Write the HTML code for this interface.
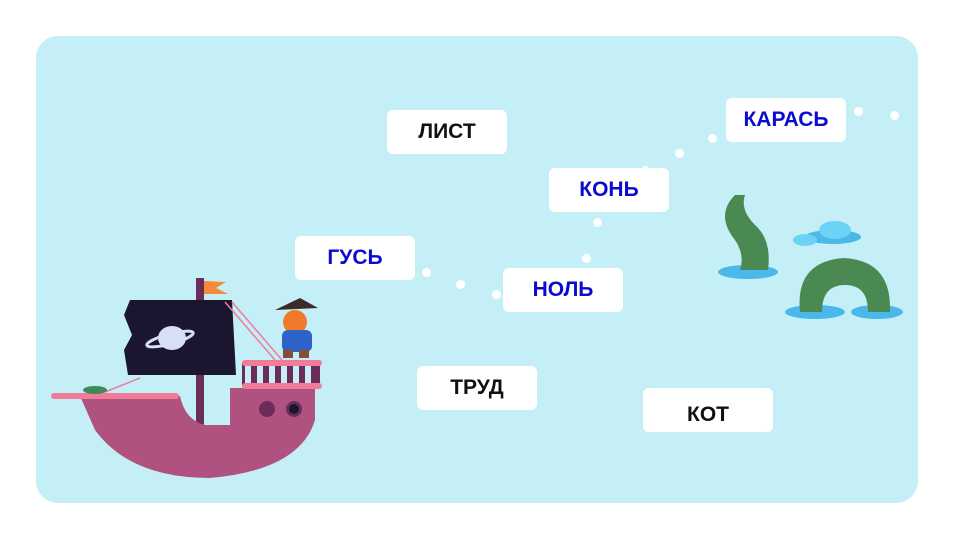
<!DOCTYPE html>
<html><head><meta charset="utf-8"><style>
body{margin:0;width:960px;height:540px;background:#fff;position:relative;overflow:hidden;font-family:"Liberation Sans",sans-serif}
.panel{position:absolute;left:36px;top:36px;width:882px;height:467px;background:#c5eff6;border-radius:22px}
.b{position:absolute;width:120px;height:44px;background:#fff;border-radius:6px;font-weight:bold;font-size:21px;display:flex;align-items:center;justify-content:center}
.bl{color:#0a0ad0}.k{color:#111}
.d{position:absolute;width:9px;height:9px;border-radius:50%;background:#fff}
svg{position:absolute;left:0;top:0}
</style></head><body>
<div class="panel"></div>
<svg width="960" height="540">
<!-- ship -->
<g>
<rect x="196" y="278" width="8" height="150" fill="#6b2c57"/>
<polygon points="204,281 226,282 216,288 228,294 204,294" fill="#f58a3a"/>
<path d="M130,300 L232,300 L236,375 L128,375 L124,350 L132,335 L124,315Z" fill="#1b1530"/>
<ellipse cx="172" cy="338" rx="14" ry="12" fill="#d8def8"/>
<ellipse cx="170" cy="339" rx="24" ry="5" fill="none" stroke="#d8def8" stroke-width="3" transform="rotate(-15 170 339)"/>
<line x1="225" y1="302" x2="275" y2="360" stroke="#f07c9a" stroke-width="1.5"/>
<line x1="232" y1="302" x2="282" y2="360" stroke="#f07c9a" stroke-width="1.5"/>
<line x1="105" y1="392" x2="140" y2="378" stroke="#f07c9a" stroke-width="1.5"/>
<path d="M80,396 L180,396 Q185,420 205,425 L230,425 L230,388 L315,388 L315,420 Q300,470 210,478 Q130,478 95,430 Z" fill="#b0527f"/>
<rect x="242" y="362" width="78" height="24" fill="#6b2c57"/>
<rect x="245" y="366" width="6" height="18" fill="#c5eff6"/><rect x="257" y="366" width="6" height="18" fill="#c5eff6"/><rect x="269" y="366" width="6" height="18" fill="#c5eff6"/><rect x="281" y="366" width="6" height="18" fill="#c5eff6"/><rect x="293" y="366" width="6" height="18" fill="#c5eff6"/><rect x="305" y="366" width="6" height="18" fill="#c5eff6"/>
<rect x="242" y="360" width="80" height="6" rx="3" fill="#f07c9a"/>
<rect x="242" y="383" width="80" height="6" rx="3" fill="#f07c9a"/>
<rect x="51" y="393" width="128" height="6" rx="3" fill="#f07c9a"/>
<ellipse cx="95" cy="390" rx="12" ry="4" fill="#3f8a5a"/>
<circle cx="267" cy="409" r="8" fill="#6b2c57"/><circle cx="294" cy="409" r="8" fill="#6b2c57"/><circle cx="294" cy="409" r="5" fill="#1b1530"/>
<path d="M275,310 L300,298 L318,308 Z" fill="#3a2a2a"/>
<circle cx="295" cy="322" r="12" fill="#f07a2a"/>
<rect x="282" y="330" width="30" height="22" rx="6" fill="#2d63c8"/>
<rect x="283" y="350" width="10" height="8" fill="#8a4a3a"/><rect x="299" y="350" width="10" height="8" fill="#8a4a3a"/>
</g>
<!-- serpent -->
<ellipse cx="748" cy="272" rx="30" ry="7" fill="#4ab8ea"/>
<path d="M735,195 Q715,215 735,240 Q745,255 740,270 L768,270 Q772,240 755,225 Q740,210 745,195 Z" fill="#4a8a52"/>
<ellipse cx="833" cy="237" rx="28" ry="7" fill="#4ab8ea"/>
<ellipse cx="835" cy="230" rx="16" ry="9" fill="#6dd3f5"/>
<ellipse cx="805" cy="240" rx="12" ry="6" fill="#6dd3f5"/>
<ellipse cx="815" cy="312" rx="30" ry="7" fill="#4ab8ea"/>
<ellipse cx="877" cy="312" rx="26" ry="7" fill="#4ab8ea"/>
<path d="M800,312 Q795,262 843,258 Q892,260 890,312 L868,312 Q868,285 845,285 Q822,285 822,312 Z" fill="#4a8a52"/>
</svg>
<div class="b k" style="left:387px;top:110px">ЛИСТ</div>
<div class="b bl" style="left:726px;top:98px">КАРАСЬ</div>
<div class="b bl" style="left:549px;top:168px">КОНЬ</div>
<div class="b bl" style="left:295px;top:236px">ГУСЬ</div>
<div class="b bl" style="left:503px;top:268px">НОЛЬ</div>
<div class="b k" style="left:417px;top:366px">ТРУД</div>
<div class="b k" style="left:643px;top:388px;width:130px;padding-top:10px;box-sizing:border-box">КОТ</div>
<div class="d" style="left:422px;top:268px"></div>
<div class="d" style="left:456px;top:280px"></div>
<div class="d" style="left:492px;top:290px"></div>
<div class="d" style="left:582px;top:254px"></div>
<div class="d" style="left:593px;top:218px"></div>
<div class="d" style="left:641px;top:166px"></div>
<div class="d" style="left:675px;top:149px"></div>
<div class="d" style="left:708px;top:134px"></div>
<div class="d" style="left:854px;top:107px"></div>
<div class="d" style="left:890px;top:111px"></div>
</body></html>
